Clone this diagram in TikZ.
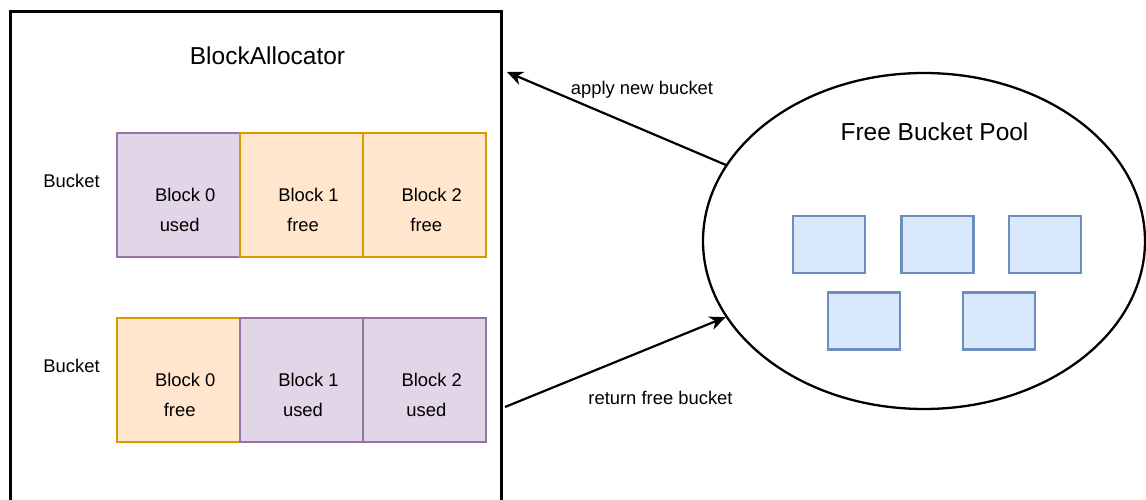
\documentclass[tikz,border=0pt]{standalone}
\usepackage{fontspec}
\setmainfont{Liberation Sans}
\usetikzlibrary{shapes.geometric,arrows.meta,calc}
\definecolor{usedfill}{HTML}{E1D5E7}
\definecolor{useddraw}{HTML}{9673A6}
\definecolor{freefill}{HTML}{FFE6CC}
\definecolor{freedraw}{HTML}{D79B00}
\definecolor{poolfill}{HTML}{DAE8FC}
\definecolor{pooldraw}{HTML}{6C8EBF}
\begin{document}
\begin{tikzpicture}[
  x=1pt, y=-1pt,
  small/.style={font=\fontsize{18.4pt}{22pt}\selectfont, inner sep=0, anchor=base},
  big/.style={font=\fontsize{24.5pt}{29pt}\selectfont, inner sep=0, anchor=base},
  blockbox/.style={draw, minimum width=123.3pt, minimum height=124pt, inner sep=0, line width=2pt},
  usedblk/.style={blockbox, draw=useddraw, fill=usedfill},
  freeblk/.style={blockbox, draw=freedraw, fill=freefill},
  poolbkt/.style={draw=pooldraw, fill=poolfill, line width=2.2pt,
                  minimum width=72pt, minimum height=57pt, inner sep=0},
  arr/.style={line width=2.2pt, -{Stealth[length=16pt,width=14pt,inset=5pt]}}
]
% page area
\clip (0,0) rectangle (1146,500);
\fill[white] (0,0) rectangle (1146,500);

% allocator frame (runs past the lower edge)
\node[draw=black, line width=3pt, inner sep=0, minimum width=491.5pt, minimum height=520pt]
  (alloc) at (255.75,271.5) {};
\node[big] (alloc-title) at (267.5,65) {BlockAllocator};

% bucket labels
\node[small] (bucket1-lbl) at (71.5,187) {Bucket};
\node[small] (bucket2-lbl) at (71.5,372) {Bucket};

% blocks of the two buckets
\foreach \bname/\bx/\by/\bstyle/\bnum/\bstate in {
  b10/178.2/195/usedblk/0/used, b11/301.5/195/freeblk/1/free, b12/424.8/195/freeblk/2/free,
  b20/178.2/380/freeblk/0/free, b21/301.5/380/usedblk/1/used, b22/424.8/380/usedblk/2/used}{
  \node[\bstyle] (\bname) at (\bx,\by) {};
  \node[small] (\bname-name) at ($(\bname.north)+(7,69)$) {Block \bnum};
  \node[small] (\bname-state) at ($(\bname.north)+(1.5,99.5)$) {\bstate};
}

% free bucket pool
\node[draw=black, ellipse, line width=2.3pt, minimum width=442pt, minimum height=336pt, inner sep=0]
  (pool) at (924,241) {};
\node[big] (pool-title) at (934.5,141) {Free Bucket Pool};
\node[poolbkt] (q1) at (829,244.5) {};
\node[poolbkt] (q2) at (937.5,244.5) {};
\node[poolbkt] (q3) at (1045,244.5) {};
\node[poolbkt] (q4) at (864,321) {};
\node[poolbkt] (q5) at (999,321) {};

% transfers between allocator and pool
\coordinate (applyEnd) at (507,72);
\coordinate (returnStart) at (505,407);
\draw[arr] (pool.159.8) -- (applyEnd);
\draw[arr] (returnStart) -- (pool.201.3);
\node[small] (apply-lbl) at (642,94.5) {apply new bucket};
\node[small] (return-lbl) at (660.5,404) {return free bucket};
\end{tikzpicture}
\end{document}
